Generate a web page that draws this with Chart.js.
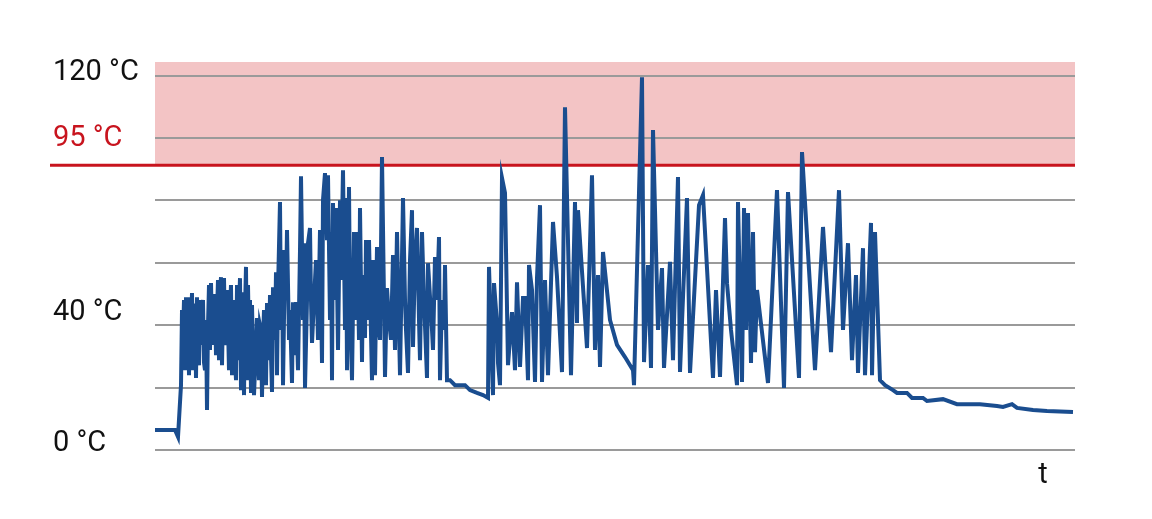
<!DOCTYPE html>
<html><head><meta charset="utf-8">
<script src="https://cdn.jsdelivr.net/npm/chart.js@4/dist/chart.umd.min.js"></script>
<style>html,body{margin:0;padding:0;background:#fff;} #wrap{width:1152px;height:519px;position:relative;}</style>
</head><body><div id="wrap"><canvas id="c"></canvas></div>
<script>
// ---- data (time in arbitrary units, temperature in °C) ----
const warmupTime = [0,20,23,26,27];
const warmupTemp = [6.4,6.4,4.2,20.8,44.9];

const run1Time = [28,29,30,31,32,33,34,35,36,37,38,39,40,41,42,43,44,45,46,47,48,49,50,51,52,53,54,55,56,57,58,59,60,61,62,63,64,65,66,67,68,69,70,71,72,73,74,75,76,77,78,79,80,81,82,83,84,85,86,87,88,89,90,91,92,93,94,95,96,97,98,99];
const run1Temp = [35.3,48.1,25.6,49.0,28.8,48.1,24.0,49.0,38.5,50.3,25.6,36.9,47.0,23.1,49.0,30.0,27.2,48.1,33.7,45.0,48.1,28.0,25.6,41.7,12.8,40.0,52.9,32.1,53.5,38.0,33.7,50.0,48.1,30.4,44.0,54.5,28.8,50.0,55.4,27.2,45.0,55.1,36.0,33.7,51.3,40.0,25.6,45.0,52.9,24.0,40.0,48.1,30.0,22.4,52.9,28.8,45.0,55.1,19.2,40.0,50.6,17.6,45.0,58.7,22.4,52.9,33.7,48.1,18.3,46.5,30.0,17.6];

const run2Time = [102,103,104,105,106,107,108,109,110,111,112,113,114,115,116,117,118,119,120,121,122,123,125,126,127,128,130,131,132,134,135,137,138,140,141,143,145,146,148,149,150,152,153,155,156,157,159,161,163,165,167,168,170,172,173,175,176,177,178,180,181,183,185,186,188,190,191,192,194,195,197,199,200,202,204,205,207,208,210,211,213,214,217,218,220,222,224,225,227,229,230,232,234,236,238,240,242,244,245,248,250,251,253,255,257,258,260,262,264,265,267,269,272,273,275,277,278,280,282,284,285,287,289,290,292,295,300,305,310,315,322,328,333];
const run2Temp = [42.3,30.0,22.4,40.0,38.5,17.0,35.0,44.9,30.0,20.8,47.1,36.0,28.8,49.7,30.0,18.6,52.2,40.0,35.3,57.0,24.0,51.3,79.5,38.5,64.1,20.8,64.1,48.1,70.5,35.3,44.9,21.5,47.4,30.4,47.4,25.6,64.1,87.8,41.7,66.3,19.9,48.1,66.3,71.2,48.1,34.3,48.1,60.9,35.3,70.5,27.9,80.1,88.8,67.3,88.1,41.7,69.9,22.4,79.2,48.1,77.6,32.1,80.1,54.5,89.7,38.5,80.8,25.6,84.3,48.1,22.4,69.9,41.7,69.9,35.3,77.6,28.2,56.1,35.9,67.3,41.7,67.3,22.4,60.9,24.0,65.1,38.5,35.3,93.9,48.1,23.4,51.9,41.7,35.3,62.5,32.1,69.9,38.5,24.0,80.8,48.1,38.5,24.7,60.9,76.9,33.0,60.9,71.2,41.7,28.8,69.9,48.1,23.1,59.9,49.0,38.5,32.1,61.9,48.1,68.3,22.4,48.1,38.5,59.3,22.4,22.4,20.8,20.8,20.8,19.2,18.3,17.6,16.7];

const run3Time = [334,338,339,342,343,345,347,350,353,357,360,362,365,368,370,373,374,377,380,382,385,387,390,393,398,402,407,410,416,420,422,423,432,437,440,443,445,448,455,462,470,478,479];
const run3Temp = [58.7,17.6,53.5,40.7,27.9,20.8,87.2,82.4,27.2,44.2,25.6,53.8,26.6,48.7,48.7,22.4,59.3,51.3,21.8,55.1,78.5,21.8,54.5,24.0,73.1,55.4,25.0,109.9,24.0,79.5,40.7,76.9,32.7,88.1,32.1,56.1,26.6,63.5,41.7,33.7,29.8,25.6,20.8];

const run4Time = [487,489,493,496,498,503,507,509,515,518,523,525,532,535,544,548,558,561,565,570,572,576,582,583,587,589,591,593,596,598,600,602,613,622,629,633,644,647,660,668,676,684,688,693,697,701,703,708,710,716,717,720,725];
const run4Temp = [119.5,28.2,59.3,26.3,102.6,38.5,58.3,26.3,60.3,28.8,87.5,25.0,80.8,24.7,78.5,81.7,23.1,51.3,23.4,74.4,53.5,38.5,20.8,79.5,21.8,77.6,38.5,76.0,27.9,69.9,31.4,51.3,21.5,83.3,19.9,82.7,23.1,95.5,25.6,71.5,31.4,83.3,38.5,66.3,28.8,56.1,24.7,64.7,24.0,72.8,24.0,69.9,22.4];

const cooldownTime = [730,738,742,752,757,768,772,788,802,825,842,848,857,862,878,892,918];
const cooldownTemp = [20.8,19.2,18.3,18.3,16.7,16.7,15.7,16.3,14.7,14.7,14.1,13.8,14.7,13.5,12.8,12.5,12.2];

// axis / labels
const yGridValues = [0,20,40,60,80,100,120];
const yLabelTexts = ['0 °C','40 °C','95 °C','120 °C'];
const yLabelValues = [1.9, 43.9, 99.7, 120.8];
const yLabelColors = ['#111','#111','#c8141e','#111'];
const limitValue = 91.3;   // red threshold line as drawn
const zoneTop = 124.4;     // top of the shaded critical zone
const xLabel = 't';

const times = [].concat(warmupTime, run1Time, run2Time, run3Time, run4Time, cooldownTime);
const temps = [].concat(warmupTemp, run1Temp, run2Temp, run3Temp, run4Temp, cooldownTemp);
const points = times.map((t, i) => ({x: t, y: temps[i]}));

const FONT = '29px Roboto, "Liberation Sans", sans-serif';

const decor = {
  id: 'decor',
  beforeDraw(chart) {
    const {ctx, chartArea: a, scales: {y}} = chart;
    ctx.save();
    ctx.fillStyle = '#f3c4c5';
    const top = y.getPixelForValue(zoneTop), bot = y.getPixelForValue(limitValue);
    ctx.fillRect(a.left, top, a.right - a.left, bot - top);
    ctx.restore();
  },
  beforeDatasetsDraw(chart) {
    const {ctx, chartArea: a, scales: {y}} = chart;
    const py = y.getPixelForValue(limitValue);
    ctx.save();
    ctx.strokeStyle = '#c8141e';
    ctx.lineWidth = 3;
    ctx.beginPath();
    ctx.moveTo(50, py);
    ctx.lineTo(a.right, py);
    ctx.stroke();
    ctx.restore();
  },
  afterDraw(chart) {
    const {ctx, chartArea: a, scales: {y}} = chart;
    ctx.save();
    ctx.font = FONT;
    ctx.textBaseline = 'middle';
    ctx.textAlign = 'left';
    yLabelTexts.forEach((txt, i) => {
      ctx.fillStyle = yLabelColors[i];
      ctx.fillText(txt, 53, y.getPixelForValue(yLabelValues[i]));
    });
    ctx.fillStyle = '#111';
    ctx.textAlign = 'center';
    ctx.fillText(xLabel, a.right - 32, a.bottom + 26);
    ctx.restore();
  }
};

new Chart(document.getElementById('c'), {
  type: 'line',
  data: { datasets: [{
    data: points,
    borderColor: '#1a4d8f',
    borderWidth: 4,
    pointRadius: 0,
    tension: 0,
    fill: false
  }]},
  options: {
    responsive: true,
    maintainAspectRatio: false,
    animation: false,
    layout: { padding: { left: 155, right: 77, top: 62, bottom: 69 } },
    plugins: { legend: { display: false }, tooltip: { enabled: false } },
    scales: {
      x: { type: 'linear', min: 0, max: 920, display: false },
      y: {
        min: 0, max: zoneTop,
        afterBuildTicks: s => { s.ticks = yGridValues.map(v => ({value: v})); },
        grid: { color: '#9a9a9a', lineWidth: 2, drawTicks: false },
        border: { display: false },
        ticks: { display: false }
      }
    }
  },
  plugins: [decor]
});
</script>
</body></html>
